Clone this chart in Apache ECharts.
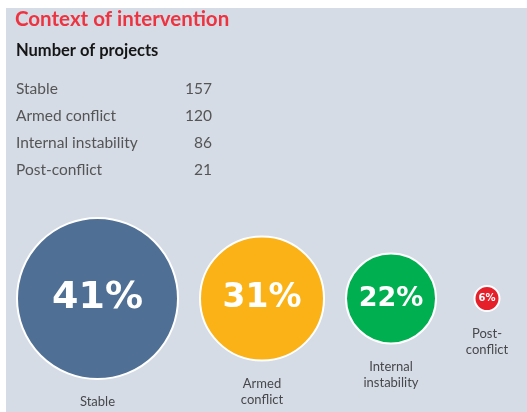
<!DOCTYPE html>
<html>
<head>
<meta charset="utf-8">
<script src="https://cdn.jsdelivr.net/npm/echarts@6/dist/echarts.min.js"></script>
<style>
  html, body { margin: 0; background: #fff; }
  #chart { width: 527px; height: 412px; }
</style>
</head>
<body>
<div id="chart"></div>
<script>
// data
const categories = ['Stable', 'Armed conflict', 'Internal instability', 'Post-conflict']
const bubbleLabels = ['Stable', 'Armed\nconflict', 'Internal\ninstability', 'Post-\nconflict']
const projects = [157, 120, 86, 21]
const shares = [41, 31, 22, 6] // % as printed
const colors = ['#4f6f94', '#fbb216', '#00af50', '#e6202b']

const chart = echarts.init(document.getElementById('chart'))

// bubble diameter grows with the project count, bubbles placed side by side
const diam = (v) => v + 6
const xs = []
projects.forEach((v, i) => {
  if (i === 0) xs.push(16 + diam(v) / 2)
  else xs.push(xs[i - 1] + Math.max((diam(projects[i - 1]) + diam(v)) / 2 + 20, 96))
})

const points = projects.map((v, i) => ({
  name: categories[i],
  value: [xs[i], 0, v],
  itemStyle: { color: colors[i] },
  label: { fontSize: Math.round(3.7 * Math.sqrt(diam(v)) - 8.8) },
}))

const labelFont = 'Lato, "Open Sans", sans-serif'

// title + table on the left
const tableRows = []
categories.forEach((c, i) => {
  const y = 89 + i * 27
  tableRows.push({
    type: 'text', x: 16, y: y,
    style: { text: c, font: '15.5px ' + labelFont, fill: '#555', verticalAlign: 'middle' },
  })
  tableRows.push({
    type: 'text', x: 212, y: y,
    style: { text: String(projects[i]), font: '15.5px ' + labelFont, fill: '#555', align: 'right', verticalAlign: 'middle' },
  })
})

const option = {
  animation: false,
  backgroundColor: '#fff',
  grid: { left: 0, right: 0, top: 198, bottom: 13 },
  xAxis: { type: 'value', min: 0, max: 527, show: false },
  yAxis: { type: 'value', min: -1, max: 1, show: false },
  graphic: {
    elements: [
      { type: 'rect', z: -10, shape: { x: 6, y: 8, width: 521, height: 404 }, style: { fill: '#d5dce6' }, silent: true },
      { type: 'text', x: 15, y: 19, style: { text: 'Context of intervention', font: 'bold 20.5px ' + labelFont, fill: '#ee3340', verticalAlign: 'middle' } },
      { type: 'text', x: 16, y: 51, style: { text: 'Number of projects', font: 'bold 16.5px ' + labelFont, fill: '#151515', verticalAlign: 'middle' } },
      ...tableRows,
    ],
  },
  series: [
    {
      type: 'scatter',
      data: points,
      symbolSize: (val) => diam(val[2]) - 2,
      itemStyle: { borderColor: '#fff', borderWidth: 2, opacity: 1 },
      label: {
        show: true,
        position: 'inside',
        formatter: (p) => shares[p.dataIndex] + '%',
        color: '#fff',
        fontFamily: '"DejaVu Sans", sans-serif',
        fontWeight: 'bold',
      },
      emphasis: { disabled: true },
      z: 3,
    },
    {
      type: 'scatter',
      data: projects.map((v, i) => [xs[i], 0, v]),
      symbolSize: (val) => diam(val[2]),
      itemStyle: { color: 'transparent' },
      label: {
        show: true,
        position: 'bottom',
        distance: 14,
        formatter: (p) => bubbleLabels[p.dataIndex],
        color: '#222',
        fontFamily: labelFont,
        fontSize: 13,
        lineHeight: 16,
        align: 'center',
      },
      emphasis: { disabled: true },
      silent: true,
      z: 2,
    },
  ],
}

chart.setOption(option)
</script>
</body>
</html>
